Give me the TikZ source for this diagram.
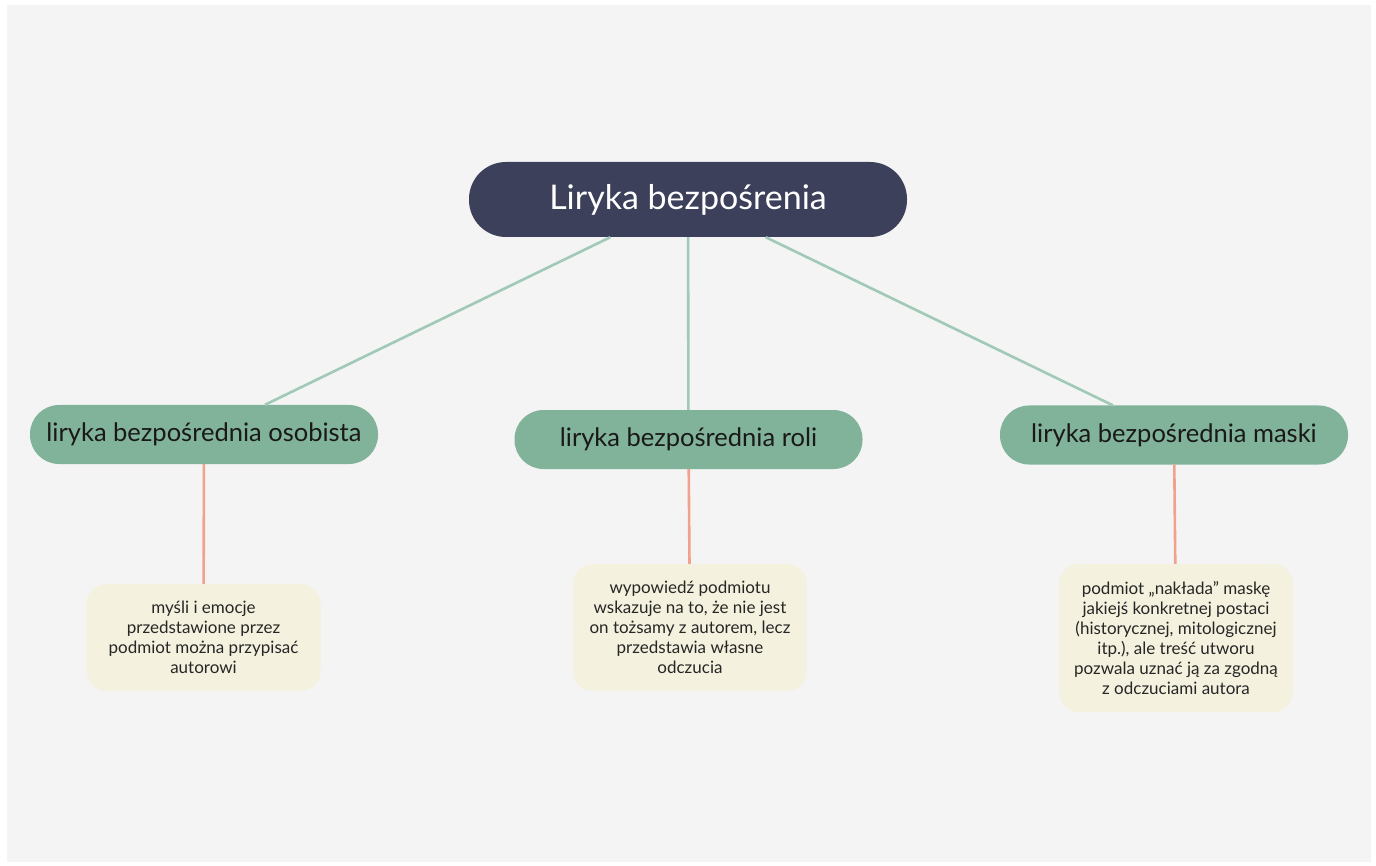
\documentclass[tikz,border=0pt]{standalone}
\usepackage{fontspec}
\setmainfont{Lato}
\usepackage{xcolor}
\usepackage{tikz}

\definecolor{rootblue}{HTML}{3D405B}
\definecolor{kindgreen}{HTML}{81B29A}
\definecolor{notecream}{HTML}{F4F1DE}
\definecolor{linkgreen}{HTML}{A0C9B6}
\definecolor{linksalmon}{HTML}{F2A28C}
\definecolor{canvasgray}{HTML}{F4F4F4}

\begin{document}
\begin{tikzpicture}[x=1pt, y=-1pt,
  rootbox/.style={fill=rootblue, text=white, rounded corners=37pt, minimum width=438pt, minimum height=75pt, font=\fontsize{34}{40}\selectfont},
  kindbox/.style={fill=kindgreen, text=black!90, rounded corners=29pt, minimum width=348pt, minimum height=59pt, font=\fontsize{25.5}{30}\selectfont},
  notebox/.style={fill=notecream, text=black!85, rounded corners=20pt, minimum width=234pt, align=center, font=\fontsize{17}{20}\selectfont},
  rootlink/.style={draw=linkgreen, line width=2.6pt},
  notelink/.style={draw=linksalmon, line width=2.6pt}]
% canvas
\useasboundingbox (0,0) rectangle (1376,866);
\fill[white] (0,0) rectangle (1376,866);
\fill[canvasgray] (7,5) rectangle (1371,862);
% nodes
\node[rootbox] (root) at (688,199.5) {Liryka bezpośrenia};
\node[kindbox] (osobista) at (204,434.5) {liryka bezpośrednia osobista};
\node[kindbox] (roli) at (688.5,439.5) {liryka bezpośrednia roli};
\node[kindbox] (maski) at (1174,435) {liryka bezpośrednia maski};
\node[notebox, minimum height=107pt] (osobistaNote) at (203.5,637.5) {myśli i emocje\\przedstawione przez\\podmiot można przypisać\\autorowi};
\node[notebox, minimum height=127pt] (roliNote) at (690,627.5) {wypowiedź podmiotu\\wskazuje na to, że nie jest\\on tożsamy z autorem, lecz\\przedstawia własne\\odczucia};
\node[notebox, minimum height=148pt] (maskiNote) at (1176,638) {podmiot „nakłada” maskę\\jakiejś konkretnej postaci\\(historycznej, mitologicznej\\itp.), ale treść utworu\\pozwala uznać ją za zgodną\\z odczuciami autora};
% links
\draw[rootlink] (root) -- (osobista);
\draw[rootlink] (root) -- (roli);
\draw[rootlink] (root) -- (maski);
\draw[notelink] (osobista) -- (osobistaNote);
\draw[notelink] (roli) -- (roliNote);
\draw[notelink] (maski) -- (maskiNote);
\end{tikzpicture}
\end{document}
